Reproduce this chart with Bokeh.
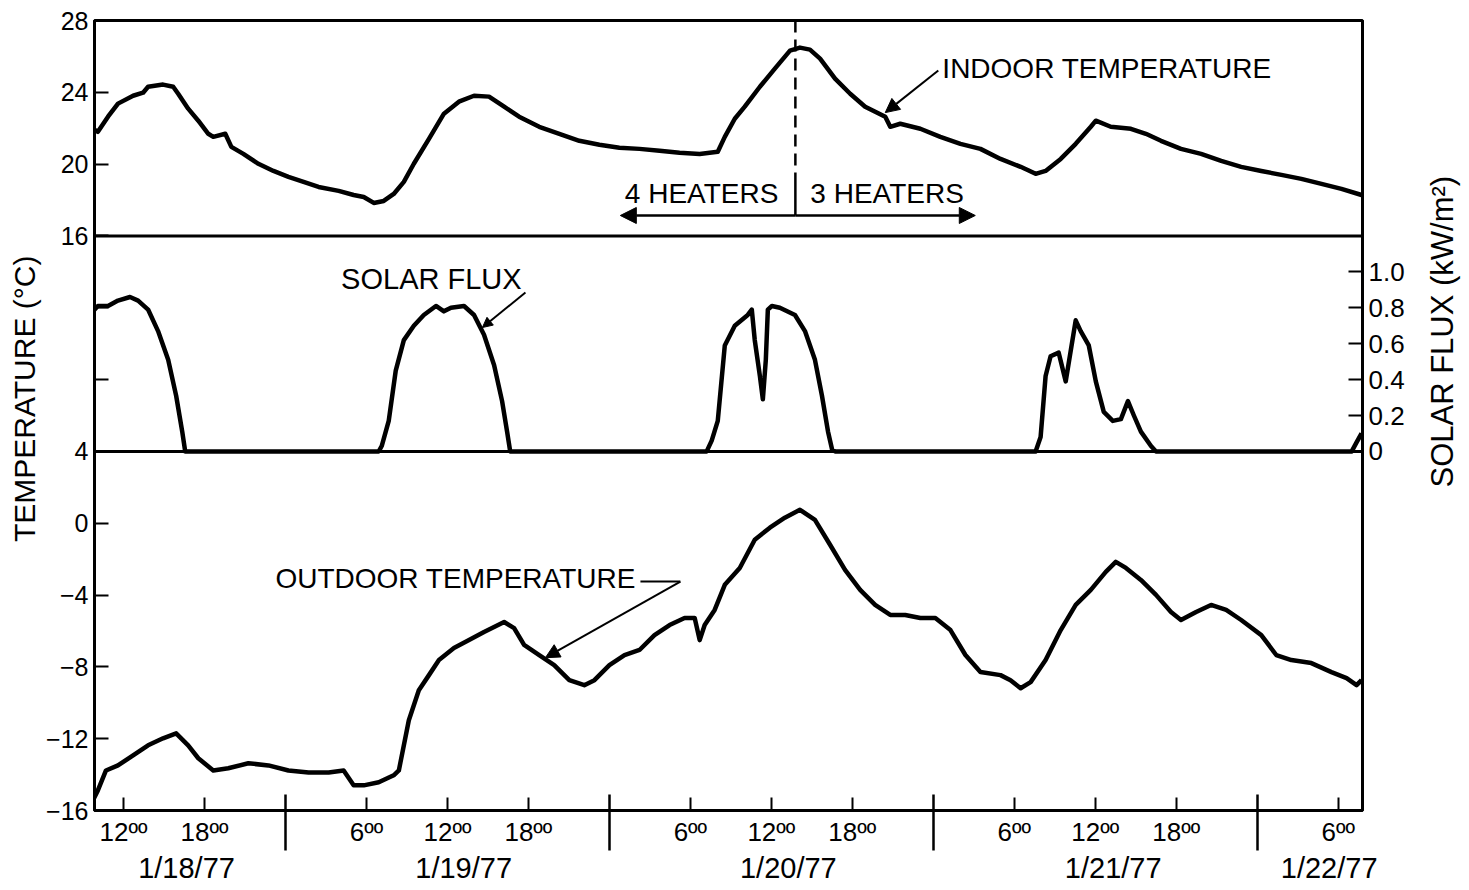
import math
from bokeh.plotting import figure
from bokeh.layouts import row
from bokeh.models import Range1d, LinearAxis, FixedTicker, Span, Label, Arrow, NormalHead
from bokeh.embed import file_html
from bokeh.resources import INLINE

FONT = "Liberation Sans"
NBSP = "\u00a0"

# ---------------- data (hours counted from 0:00 on 1/18/77) ----------------
indoor_hours = [9.73, 10.10, 10.85, 11.59, 12.71, 13.45, 13.82, 14.93, 15.68, 16.05, 16.79, 17.54,
                18.28, 18.65, 19.54, 19.99, 20.88, 21.99, 23.11, 24.22, 25.34, 26.45, 27.94, 29.05,
                29.80, 30.54, 31.28, 32.02, 32.77, 33.51, 34.63, 35.74, 36.85, 37.97, 39.08, 40.20,
                41.31, 42.80, 44.29, 45.77, 47.26, 48.74, 50.23, 51.72, 53.20, 54.69, 56.03, 56.55,
                57.29, 58.03, 59.15, 60.26, 61.38, 62.12, 62.86, 63.61, 64.72, 65.84, 66.95, 68.44,
                68.81, 69.55, 71.04, 72.52, 74.01, 75.49, 76.98, 78.47, 79.58, 80.32, 81.44, 82.55,
                83.67, 84.04, 85.15, 86.64, 87.75, 88.87, 90.35, 91.84, 93.33, 94.81, 96.30, 97.79,
                99.27, 100.76, 102.24, 103.73]
indoor_temp = [21.97, 21.8, 22.64, 23.37, 23.81, 23.98, 24.31, 24.43, 24.31, 23.92, 23.09, 22.42,
               21.69, 21.52, 21.69, 20.96, 20.57, 20.02, 19.62, 19.29, 19.01, 18.73, 18.51, 18.28,
               18.17, 17.84, 17.95, 18.34, 19.01, 20.02, 21.41, 22.81, 23.48, 23.81, 23.76, 23.20,
               22.64, 22.08, 21.69, 21.30, 21.08, 20.91, 20.85, 20.74, 20.63, 20.57, 20.69, 21.52,
               22.53, 23.20, 24.31, 25.32, 26.32, 26.49, 26.38, 25.88, 24.76, 23.92, 23.20, 22.64,
               22.08, 22.25, 21.97, 21.52, 21.13, 20.85, 20.29, 19.85, 19.46, 19.62, 20.29, 21.13,
               22.08, 22.42, 22.08, 21.97, 21.69, 21.30, 20.85, 20.57, 20.18, 19.85, 19.62, 19.40,
               19.18, 18.90, 18.62, 18.28]

solar_hours = [9.73, 10.10, 10.85, 11.59, 12.48, 13.08, 13.82, 14.56, 15.31, 15.90, 16.35, 16.57,
               30.91, 31.13, 31.65, 32.17, 32.77, 33.51, 34.25, 35.15, 35.74, 36.26, 37.23, 37.97,
               38.71, 39.46, 40.05, 40.42, 40.65,
               55.21, 55.58, 56.03, 56.55, 57.29, 58.25, 58.55, 58.77, 59.15, 59.37, 59.59, 59.74,
               60.04, 60.63, 61.75, 62.49, 63.23, 63.75, 64.20, 64.50, 64.72,
               79.58, 79.95, 80.32, 80.69, 81.29, 81.81, 82.18, 82.55, 82.92, 83.52, 84.04, 84.63,
               85.30, 85.90, 86.42, 86.86, 87.38, 88.13, 88.50,
               103.0, 103.36, 103.73]
solar_flux = [0.78, 0.81, 0.81, 0.84, 0.86, 0.84, 0.79, 0.67, 0.51, 0.31, 0.11, 0.0,
              0.0, 0.03, 0.17, 0.45, 0.62, 0.70, 0.76, 0.81, 0.78, 0.80, 0.81, 0.76,
              0.65, 0.48, 0.28, 0.11, 0.0,
              0.0, 0.06, 0.17, 0.59, 0.70, 0.76, 0.79, 0.62, 0.42, 0.29, 0.51, 0.79,
              0.81, 0.80, 0.76, 0.67, 0.51, 0.31, 0.11, 0.01, 0.0,
              0.0, 0.08, 0.42, 0.53, 0.55, 0.39, 0.56, 0.73, 0.67, 0.59, 0.39, 0.22,
              0.17, 0.18, 0.28, 0.20, 0.11, 0.03, 0.0,
              0.0, 0.05, 0.10]

outdoor_hours = [9.73, 10.10, 10.70, 11.59, 12.71, 13.82, 14.93, 15.90, 16.79, 17.54, 18.65, 19.76,
                 21.25, 22.74, 24.22, 25.71, 27.20, 28.31, 29.05, 29.80, 30.91, 32.02, 32.40, 33.14,
                 33.88, 34.63, 35.37, 36.48, 37.60, 38.71, 40.20, 40.94, 41.68, 42.80, 43.91, 45.03,
                 46.14, 46.89, 48.00, 49.12, 50.23, 51.34, 52.46, 53.57, 54.32, 54.69, 55.06, 55.80,
                 56.55, 57.66, 58.77, 59.89, 61.00, 62.12, 63.23, 64.35, 65.46, 66.58, 67.69, 68.81,
                 69.92, 71.04, 72.15, 73.27, 74.38, 75.49, 76.98, 77.72, 78.47, 79.21, 80.32, 81.44,
                 82.55, 83.67, 84.78, 85.52, 86.27, 87.38, 88.50, 89.61, 90.35, 91.47, 92.58, 93.70,
                 94.81, 96.30, 97.41, 98.53, 100.01, 101.50, 102.62, 103.36, 103.73]
outdoor_temp = [-15.44, -14.88, -13.77, -13.49, -12.93, -12.37, -11.98, -11.70, -12.37, -13.09, -13.77, -13.65,
                -13.37, -13.49, -13.77, -13.88, -13.88, -13.77, -14.60, -14.60, -14.43, -14.04, -13.77, -10.97,
                -9.30, -8.46, -7.62, -6.95, -6.51, -6.06, -5.50, -5.84, -6.78, -7.34, -7.90, -8.74,
                -9.02, -8.74, -7.90, -7.34, -7.06, -6.23, -5.67, -5.28, -5.28, -6.51, -5.67, -4.83,
                -3.43, -2.49, -0.92, -0.25, 0.31, 0.75, 0.19, -1.20, -2.60, -3.71, -4.55, -5.11,
                -5.11, -5.28, -5.28, -5.95, -7.34, -8.29, -8.46, -8.74, -9.19, -8.85, -7.62, -5.95,
                -4.55, -3.71, -2.71, -2.15, -2.49, -3.16, -3.99, -4.94, -5.39, -4.94, -4.55, -4.83,
                -5.39, -6.23, -7.34, -7.62, -7.79, -8.29, -8.63, -9.02, -8.74]

time_ticks = [12, 18, 30, 36, 42, 54, 60, 66, 78, 84, 90, 102]
time_tick_labels = ["12ºº", "18ºº", "6ºº", "12ºº", "18ºº", "6ºº", "12ºº", "18ºº",
                    "6ºº", "12ºº", "18ºº", "6ºº"]
midnight_ticks = [24, 48, 72, 96]
date_labels = ["1/18/77", "1/19/77", "1/20/77", "1/21/77", "1/22/77"]
date_positions = [16.67, 37.2, 61.26, 85.33, 101.33]

temp_ticks = [-16, -12, -8, -4, 0, 4, 8, 12, 16, 20, 24, 28]
temp_tick_labels = ["−16", "−12", "−8", "−4", "0", "4", "", "", "16", "20", "24", "28"]
flux_ticks = [0, 0.2, 0.4, 0.6, 0.8, 1.0]
flux_tick_labels = ["0", "0.2", "0.4", "0.6", "0.8", "1.0"]

heater_change_hour = 61.78

H = 886

# ---------------- main figure ----------------
p = figure(width=1425, height=H, output_backend="svg", toolbar_location=None,
           x_range=Range1d(9.85, 103.8), y_range=Range1d(-16, 28),
           min_border_left=94, min_border_right=63, min_border_top=20, min_border_bottom=76)
p.xgrid.visible = False
p.ygrid.visible = False
p.outline_line_color = "black"
p.outline_line_width = 3
p.outline_line_alpha = 1.0
p.background_fill_color = "white"
p.border_fill_color = "white"

xa = p.xaxis[0]
xa.ticker = FixedTicker(ticks=time_ticks, minor_ticks=midnight_ticks)
xa.major_label_overrides = {t: l for t, l in zip(time_ticks, time_tick_labels)}
xa.major_tick_in = 13
xa.major_tick_out = 0
xa.minor_tick_in = 16
xa.minor_tick_out = 40
xa.axis_line_width = 3
xa.major_tick_line_width = 2
xa.minor_tick_line_width = 2.5
xa.major_label_text_font = FONT
xa.major_label_text_font_size = "26px"
xa.major_label_text_color = "black"
xa.major_label_standoff = -34

date_axis = LinearAxis(ticker=FixedTicker(ticks=date_positions))
date_axis.major_label_overrides = {t: l for t, l in zip(date_positions, date_labels)}
date_axis.axis_line_color = None
date_axis.major_tick_line_color = None
date_axis.minor_tick_line_color = None
date_axis.major_tick_in = 0
date_axis.major_tick_out = 0
date_axis.major_label_text_font = FONT
date_axis.major_label_text_font_size = "29px"
date_axis.major_label_text_color = "black"
date_axis.major_label_standoff = 2
p.add_layout(date_axis, "below")

ya = p.yaxis[0]
ya.ticker = FixedTicker(ticks=temp_ticks)
ya.major_label_overrides = {t: l for t, l in zip(temp_ticks, temp_tick_labels)}
ya.major_tick_in = 14
ya.major_tick_out = 0
ya.minor_tick_line_color = None
ya.axis_line_width = 3
ya.major_tick_line_width = 2
ya.major_label_text_font = FONT
ya.major_label_text_font_size = "25px"
ya.major_label_text_color = "black"
ya.major_label_standoff = 6
# leading no-break spaces lift the visible label a little, as in the original
ya.axis_label = NBSP * 4 + "TEMPERATURE (°C)"
ya.axis_label_text_font = FONT
ya.axis_label_text_font_size = "30px"
ya.axis_label_text_font_style = "normal"
ya.axis_label_text_color = "black"
ya.axis_label_standoff = 2

p.extra_y_ranges = {"flux": Range1d(-2.0, 2.4)}
ra = LinearAxis(y_range_name="flux", ticker=FixedTicker(ticks=flux_ticks))
ra.major_label_overrides = {t: l for t, l in zip(flux_ticks, flux_tick_labels)}
ra.major_tick_in = 14
ra.major_tick_out = 0
ra.minor_tick_line_color = None
ra.axis_line_width = 3
ra.major_tick_line_width = 2
ra.major_label_text_font = FONT
ra.major_label_text_font_size = "26px"
ra.major_label_text_color = "black"
ra.major_label_standoff = 6
p.add_layout(ra, "right")

for loc in (16, 4):
    p.add_layout(Span(location=loc, dimension="width", line_color="black", line_width=3))

# ---------------- curves ----------------
p.line(indoor_hours, indoor_temp, line_color="black", line_width=4.5, line_join="round")
p.line(solar_hours, solar_flux, y_range_name="flux", line_color="black", line_width=4.5,
       line_join="round")
p.line(outdoor_hours, outdoor_temp, line_color="black", line_width=4.5, line_join="round")

# ---------------- annotations ----------------
p.segment(x0=[heater_change_hour], y0=[28], x1=[heater_change_hour], y1=[19.4],
          line_color="black", line_width=2.5, line_dash="12 7")
p.segment(x0=[heater_change_hour], y0=[19.4], x1=[heater_change_hour], y1=[17.14],
          line_color="black", line_width=2.5)
p.add_layout(Arrow(x_start=heater_change_hour, y_start=17.14, x_end=48.81, y_end=17.14,
                   line_width=2.5, line_color="black",
                   end=NormalHead(size=16, fill_color="black", line_color="black")))
p.add_layout(Arrow(x_start=heater_change_hour, y_start=17.14, x_end=75.11, y_end=17.14,
                   line_width=2.5, line_color="black",
                   end=NormalHead(size=16, fill_color="black", line_color="black")))

def lab(fig, x, y, text, size="28px", align="left", angle=0.0):
    fig.add_layout(Label(x=x, y=y, text=text, text_font=FONT, text_font_size=size,
                         text_color="black", text_align=align, text_baseline="middle",
                         angle=angle))

lab(p, 60.52, 18.36, "4 HEATERS", align="right")
lab(p, 62.89, 18.36, "3 HEATERS")
lab(p, 72.67, 25.33, "INDOOR TEMPERATURE")
p.add_layout(Arrow(x_start=72.37, y_start=25.22, x_end=68.44, y_end=22.87, line_width=2,
                   end=NormalHead(size=14, fill_color="black", line_color="black")))
lab(p, 34.81, 13.63, "SOLAR FLUX", size="29px", align="center")
p.add_layout(Arrow(x_start=41.78, y_start=12.85, x_end=38.59, y_end=10.9, line_width=2,
                   end=NormalHead(size=10, fill_color="black", line_color="black")))
lab(p, 23.26, -3.09, "OUTDOOR TEMPERATURE")
p.segment(x0=[50.30], y0=[-3.25], x1=[53.26], y1=[-3.25], line_color="black", line_width=2)
p.add_layout(Arrow(x_start=53.26, y_start=-3.25, x_end=43.26, y_end=-7.49, line_width=2,
                   end=NormalHead(size=14, fill_color="black", line_color="black")))

# ---------------- narrow strip carrying the right-hand axis title ----------------
q = figure(width=42, height=H, output_backend="svg", toolbar_location=None,
           x_range=Range1d(0, 42), y_range=Range1d(0, H),
           x_axis_location=None, y_axis_location=None,
           min_border_left=0, min_border_right=0, min_border_top=0, min_border_bottom=0)
q.xgrid.visible = False
q.ygrid.visible = False
q.outline_line_color = None
q.background_fill_color = "white"
q.border_fill_color = "white"
lab(q, 17, H - 349, "SOLAR FLUX (kW/m²)", size="31px", align="center", angle=math.pi / 2)

layout = row(p, q, spacing=0)
open("out.html", "w").write(file_html(layout, INLINE))
